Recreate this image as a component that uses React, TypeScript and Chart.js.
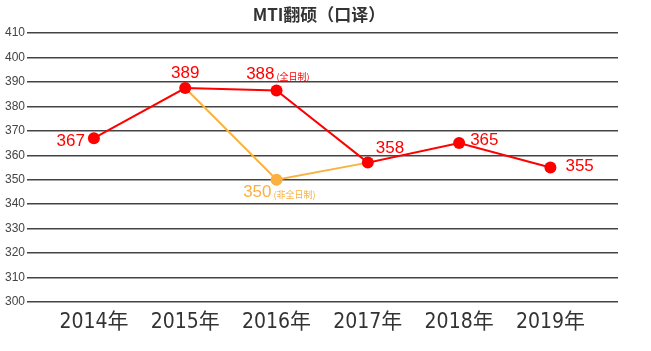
import React, { useEffect, useRef } from "react";
import { Chart, registerables } from "chart.js";

Chart.register(...registerables);

const title = "MTI翻硕（口译）";
const categories = ["2014年", "2015年", "2016年", "2017年", "2018年", "2019年"];
// plotted positions
const fullTimeValues = [367, 387.5, 386.5, 357, 365, 355];
const partTimeValues: (number | null)[] = [null, 387.5, 350, 357, null, null];
// printed data labels
const fullTimeLabels = ["367", "389", "388", "358", "365", "355"];
const fullTimeNotes = ["", "", "(全日制)", "", "", ""];
const partTimeLabels = ["", "", "350", "", "", ""];
const partTimeNotes = ["", "", "(非全日制)", "", "", ""];
const yTicks = [300, 310, 320, 330, 340, 350, 360, 370, 380, 390, 400, 410];

const RED = "#ff0000";
const ORANGE = "#fbb040";

// label placement (dx, dy of the text anchor relative to the point, align)
const fullPlace: [number, number, CanvasTextAlign][] = [
  [-9, 3, "right"],
  [0, -15, "center"],
  [-2, -16, "right"],
  [8, -14, "left"],
  [11, -3, "left"],
  [15, -1, "left"],
];
const partPlace: [number, number, CanvasTextAlign][] = [
  [0, 0, "center"],
  [0, 0, "center"],
  [-5, 13, "right"],
  [0, 0, "center"],
  [0, 0, "center"],
  [0, 0, "center"],
];

const labelPlugin = {
  id: "labels",
  afterDatasetsDraw(chart: any) {
    const ctx = chart.ctx as CanvasRenderingContext2D;
    const xs = chart.scales.x;
    const ys = chart.scales.y;
    ctx.save();
    ctx.textBaseline = "middle";
    const draw = (
      vals: (number | null)[],
      labels: string[],
      notes: string[],
      place: [number, number, CanvasTextAlign][],
      color: string
    ) => {
      vals.forEach((v, i) => {
        if (v == null || !labels[i]) return;
        const px = xs.getPixelForValue(i);
        const py = ys.getPixelForValue(v);
        const [dx, dy, align] = place[i];
        ctx.fillStyle = color;
        ctx.font = '17px "Liberation Sans Narrow", "Liberation Sans", Arial, sans-serif';
        ctx.textAlign = align;
        const tx = px + dx;
        const ty = py + dy;
        ctx.fillText(labels[i], tx, ty);
        if (notes[i]) {
          const w = ctx.measureText(labels[i]).width;
          const startX = align === "right" ? tx : align === "center" ? tx + w / 2 : tx + w;
          ctx.font = '9px "Noto Sans CJK SC", sans-serif';
          ctx.textAlign = "left";
          ctx.fillText(notes[i], startX + 2, ty + 2);
        }
      });
    };
    draw(fullTimeValues, fullTimeLabels, fullTimeNotes, fullPlace, RED);
    draw(partTimeValues, partTimeLabels, partTimeNotes, partPlace, ORANGE);
    // title
    ctx.fillStyle = "#333333";
    ctx.font = 'bold 17px "Noto Sans CJK SC", sans-serif';
    ctx.textAlign = "center";
    ctx.fillText(title, 319, 15);
    ctx.restore();
  },
};

export default function App() {
  const ref = useRef<HTMLCanvasElement>(null);
  useEffect(() => {
    if (!ref.current) return;
    const chart = new Chart(ref.current, {
      type: "line",
      data: {
        datasets: [
          {
            label: "全日制",
            data: fullTimeValues.map((y, i) => ({ x: i, y })),
            borderColor: RED,
            backgroundColor: RED,
            borderWidth: 2,
            pointRadius: 6,
            pointHoverRadius: 6,
            pointBorderWidth: 0,
            order: 1,
          },
          {
            label: "非全日制",
            data: partTimeValues.map((y, i) => ({ x: i, y })) as any,
            borderColor: ORANGE,
            backgroundColor: ORANGE,
            borderWidth: 2,
            pointRadius: [0, 0, 6, 0, 0, 0],
            pointBorderWidth: 0,
            spanGaps: false,
            order: 2,
          },
        ],
      },
      options: {
        responsive: false,
        animation: false,
        layout: { padding: { top: 33, right: 33, left: 0, bottom: 0 } },
        plugins: {
          legend: { display: false },
          title: { display: false },
          tooltip: { enabled: false },
        },
        scales: {
          x: {
            type: "linear",
            min: -0.7,
            max: 5.74,
            afterBuildTicks: (s: any) => {
              s.ticks = categories.map((_, i) => ({ value: i }));
            },
            afterFit: (s: any) => {
              s.height = 49;
            },
            ticks: {
              autoSkip: false,
              maxRotation: 0,
              padding: 8,
              color: "#333333",
              font: { size: 21, family: '"DejaVu Sans Condensed", "Noto Sans CJK SC", sans-serif' },
              callback: (v: any) => categories[v as number] ?? "",
            },
            grid: { display: false, drawTicks: false },
            border: { display: false },
          },
          y: {
            min: 300,
            max: 410,
            afterBuildTicks: (s: any) => {
              s.ticks = yTicks.map((v) => ({ value: v }));
            },
            afterFit: (s: any) => {
              s.width = 30;
            },
            ticks: {
              padding: 2,
              color: "#444444",
              font: { size: 12, family: '"Liberation Sans Narrow", "Liberation Sans", Arial, sans-serif' },
            },
            grid: { color: "#444444", lineWidth: 1.5, tickLength: 3 },
            border: { display: false },
          },
        },
      },
      plugins: [labelPlugin],
    });
    return () => chart.destroy();
  }, []);
  return (
    <div style={{ position: "fixed", left: 0, top: 0, width: 651, height: 351, background: "#fff" }}>
      <canvas ref={ref} width={651} height={351} />
    </div>
  );
}
